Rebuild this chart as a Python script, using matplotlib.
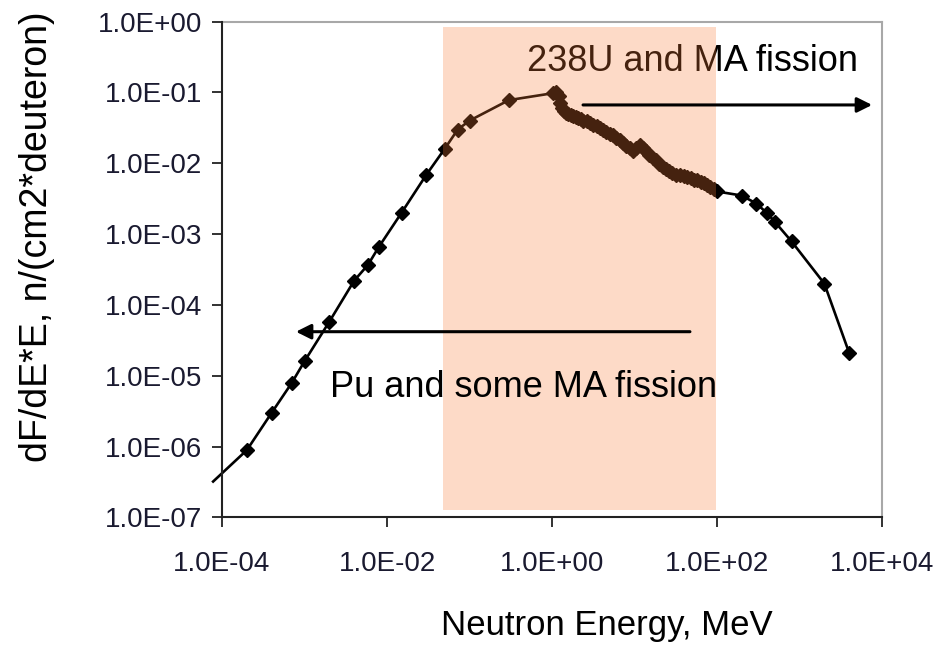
import matplotlib
matplotlib.use("Agg")
import matplotlib.pyplot as plt
from matplotlib.ticker import FixedLocator, FuncFormatter, NullLocator

plt.rcParams['font.family'] = ['Liberation Sans', 'DejaVu Sans']

# Neutron energy (MeV) and flux dF/dE*E
energy = [7.8e-5, 2.0e-4, 4.0e-4, 7.0e-4, 1.0e-3, 2.0e-3, 4.0e-3, 5.9e-3, 7.9e-3,
          1.5e-2, 3.0e-2, 5.0e-2, 7.2e-2, 0.10, 0.30,
          1.04, 1.12, 1.20, 1.26, 1.32, 1.38, 1.48, 1.58, 1.70, 1.82, 1.95, 2.09, 2.24,
          2.40, 2.63, 2.88, 3.16, 3.47, 3.80, 4.17, 4.57, 5.01, 5.50, 6.03, 6.61, 7.24,
          7.94, 8.71, 9.55, 10.5, 11.5, 12.6, 13.8, 15.1, 16.6, 18.2, 20.0, 21.9, 24.0,
          26.3, 28.8, 31.6, 35.5, 39.8, 43.7, 47.9, 52.5, 57.5, 63.1, 69.2, 75.9, 83.2,
          91.2, 100, 200, 300, 400, 500, 800, 2000, 4000]
flux = [3.2e-7, 8.9e-7, 3.0e-6, 7.9e-6, 1.6e-5, 5.8e-5, 2.2e-4, 3.7e-4, 6.5e-4,
        2.0e-3, 6.9e-3, 1.6e-2, 3.0e-2, 4.0e-2, 7.8e-2,
        9.8e-2, 1.0e-1, 8.9e-2, 7.2e-2, 6.0e-2, 5.4e-2, 5.1e-2, 4.9e-2, 4.8e-2, 4.6e-2,
        4.5e-2, 4.3e-2, 4.2e-2, 4.0e-2, 3.9e-2, 3.7e-2, 3.5e-2, 3.4e-2, 3.2e-2, 3.0e-2,
        2.8e-2, 2.6e-2, 2.5e-2, 2.3e-2, 2.1e-2, 1.95e-2, 1.78e-2, 1.62e-2, 1.48e-2,
        1.62e-2, 1.82e-2, 1.66e-2, 1.48e-2, 1.32e-2, 1.20e-2, 1.10e-2, 9.8e-3, 8.9e-3,
        8.3e-3, 7.9e-3, 7.4e-3, 6.9e-3, 6.8e-3, 6.6e-3, 6.5e-3, 6.2e-3, 5.9e-3, 5.8e-3,
        5.5e-3, 5.2e-3, 4.9e-3, 4.6e-3, 4.3e-3, 4.0e-3, 3.5e-3, 2.7e-3, 2.0e-3, 1.5e-3,
        7.9e-4, 2.0e-4, 2.1e-5]

x_ticks = [1e-4, 1e-2, 1e0, 1e2, 1e4]
y_ticks = [1e-7, 1e-6, 1e-5, 1e-4, 1e-3, 1e-2, 1e-1, 1e0]
band = [0.048, 97]  # shaded energy range, MeV

x_label = "Neutron Energy, MeV"
y_label = "dF/dE*E, n/(cm2*deuteron)"
text_top = "238U and MA fission"
text_bottom = "Pu and some MA fission"

fig = plt.figure(figsize=(9.42, 6.53), dpi=100)
ax = fig.add_axes([0.2357, 0.2078, 0.7006, 0.7590])
ax.set_xscale('log')
ax.set_yscale('log')
ax.set_xlim(1e-4, 1e4)
ax.set_ylim(1e-7, 1e0)

ax.plot(energy, flux, color='black', lw=1.9, zorder=2, clip_on=False,
        solid_joinstyle='round')
ax.plot(energy[1:], flux[1:], linestyle='none', marker='D', ms=7.5,
        color='black', zorder=2)

ax.text(0.462, 0.919, text_top, transform=ax.transAxes, fontsize=26,
        va='center', ha='left', color='black', zorder=2)

# translucent orange overlay
ax.axvspan(band[0], band[1], ymin=0.015, ymax=0.989, facecolor=(250/255, 125/255, 54/255),
           alpha=0.28, edgecolor='none', zorder=3)

ax.annotate('', xy=(0.985, 0.832), xytext=(0.547, 0.832), xycoords='axes fraction',
            arrowprops=dict(arrowstyle='-|>,head_length=0.9,head_width=0.45',
                            color='black', lw=2.2, shrinkA=0, shrinkB=0), zorder=4)
ax.annotate('', xy=(0.112, 0.3745), xytext=(0.709, 0.3745), xycoords='axes fraction',
            arrowprops=dict(arrowstyle='-|>,head_length=0.9,head_width=0.45',
                            color='black', lw=2.2, shrinkA=0, shrinkB=0), zorder=4)
ax.text(0.1636, 0.261, text_bottom, transform=ax.transAxes, fontsize=26,
        va='center', ha='left', color='black', zorder=4)

ax.xaxis.set_major_locator(FixedLocator(x_ticks))
ax.yaxis.set_major_locator(FixedLocator(y_ticks))
ax.xaxis.set_minor_locator(NullLocator())
ax.yaxis.set_minor_locator(NullLocator())
fmt = FuncFormatter(lambda v, p: f"{v:.1E}")
ax.xaxis.set_major_formatter(fmt)
ax.yaxis.set_major_formatter(fmt)
ax.tick_params(axis='x', direction='out', length=7.5, width=1.3, pad=17,
               labelsize=20, colors='#222222', labelcolor='#1a1a30')
ax.tick_params(axis='y', direction='out', length=7, width=1.3, pad=7,
               labelsize=20, colors='#222222', labelcolor='#1a1a30')

for s in ['left', 'bottom']:
    ax.spines[s].set_color('#222222')
    ax.spines[s].set_linewidth(1.5)
    ax.spines[s].set_zorder(5)
for s in ['top', 'right']:
    ax.spines[s].set_color('#a8a8a8')
    ax.spines[s].set_linewidth(1.5)

fig.text(37 / 942, 1 - 236.5 / 653, y_label, rotation=90, fontsize=27,
         ha='center', va='center', color='black')
fig.text(607 / 942, 1 - 625 / 653, x_label, fontsize=25,
         ha='center', va='center', color='black')

fig.savefig('out.png', dpi=100)
